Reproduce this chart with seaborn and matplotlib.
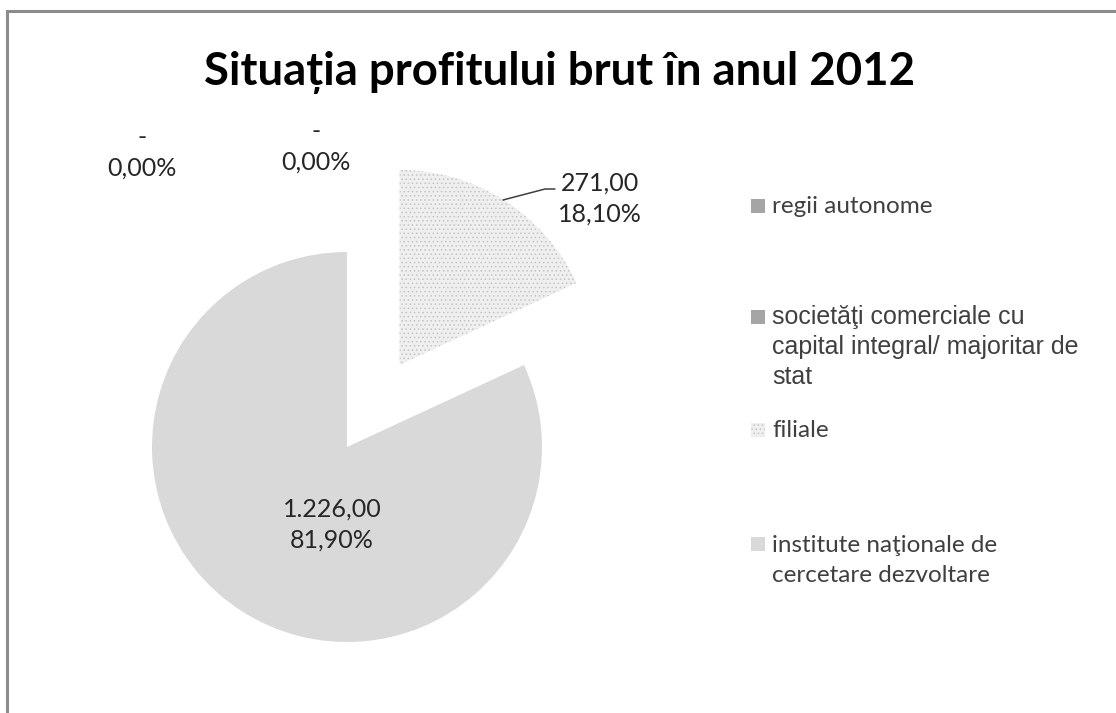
import matplotlib
matplotlib.use("Agg")
import matplotlib.pyplot as plt
from matplotlib.patches import Rectangle
import seaborn as sns

# ==========================
# data
# ==========================
categories = [
    "regii autonome",
    "societăţi comerciale cu\ncapital integral/ majoritar de\nstat",
    "filiale",
    "institute naţionale de\ncercetare dezvoltare",
]
values = [0.0, 0.0, 271.0, 1226.0]
value_labels = ["-", "-", "271,00", "1.226,00"]
pct_labels = ["0,00%", "0,00%", "18,10%", "81,90%"]
slice_colors = ["#a5a5a5", "#a5a5a5", "#efefef", "#d9d9d9"]

sns.set_style("white")
plt.rcParams["font.family"] = ["Lato", "DejaVu Sans"]
plt.rcParams["hatch.color"] = "#c4c4c4"
plt.rcParams["hatch.linewidth"] = 0.6

W, H = 1116, 713
fig = plt.figure(figsize=(W / 100, H / 100), dpi=100)
ax = fig.add_axes([0, 0, 1, 1])

# pie centre and radius in pixels (from the top-left corner)
cx, cy, r = 347, 447, 195

wedges, _ = ax.pie(
    values,
    startangle=90,
    counterclock=False,
    explode=[0, 0, 0.5, 0],
    colors=slice_colors,
    wedgeprops=dict(linewidth=0),
)
wedges[2].set_hatch("....")
wedges[2].set_edgecolor("#c4c4c4")

# 1 data unit = r pixels, pie centre at data (0, 0)
ax.set_xlim(-cx / r, (W - cx) / r)
ax.set_ylim(-(H - cy) / r, cy / r)
ax.axis("off")


def px(x, y):
    # pixel coords (top-left origin) -> figure fraction
    return x / W, 1 - y / H


# frame of the chart area
fig.patches.append(Rectangle(px(7, 760), 1200 / W, 749 / H, transform=fig.transFigure,
                             fill=False, edgecolor="#8c8c8c", linewidth=2.2))

fig.text(*px(560, 72), "Situația profitului brut în anul 2012", ha="center", va="center",
         fontsize=32.8, fontweight="bold", color="black")

# data labels (x centre, baseline of last line)
lab_pos = [(142, 176), (316, 170), (600, 222), (332, 548)]
for (x, y), v, p in zip(lab_pos, value_labels, pct_labels):
    fig.text(*px(x, y), v + "\n" + p, ha="center", va="baseline", fontsize=18,
             color="#262626", linespacing=1.43)

# leader line for filiale label
lx, ly = zip(px(503, 200), px(545, 189), px(555, 189))
fig.lines.append(plt.Line2D(lx, ly, transform=fig.transFigure,
                            color="#404040", linewidth=1.1))

# legend: baseline of first line (square) and of last line (text)
leg_first = [213, 324, 437, 551]
leg_last = [213, 384, 437, 582]
leg_fonts = [["Lato", "DejaVu Sans"], ["Liberation Sans", "DejaVu Sans"],
             ["Lato", "DejaVu Sans"], ["Lato", "DejaVu Sans"]]
leg_size = [17.5, 18, 17.5, 17.5]
leg_spacing = [1.52, 1.32, 1.52, 1.52]
for i, lab in enumerate(categories):
    sq = Rectangle(px(751, leg_first[i]), 14 / W, 14 / H, transform=fig.transFigure,
                   facecolor=slice_colors[i], edgecolor="none")
    if i == 2:
        sq.set_hatch("....")
        sq.set_edgecolor("#c4c4c4")
        sq.set_linewidth(0)
    fig.patches.append(sq)
    fig.text(*px(772, leg_last[i]), lab, ha="left", va="baseline", fontsize=leg_size[i],
             family=leg_fonts[i], color="#404040", linespacing=leg_spacing[i])

fig.savefig("out.png", dpi=100, facecolor="white")
